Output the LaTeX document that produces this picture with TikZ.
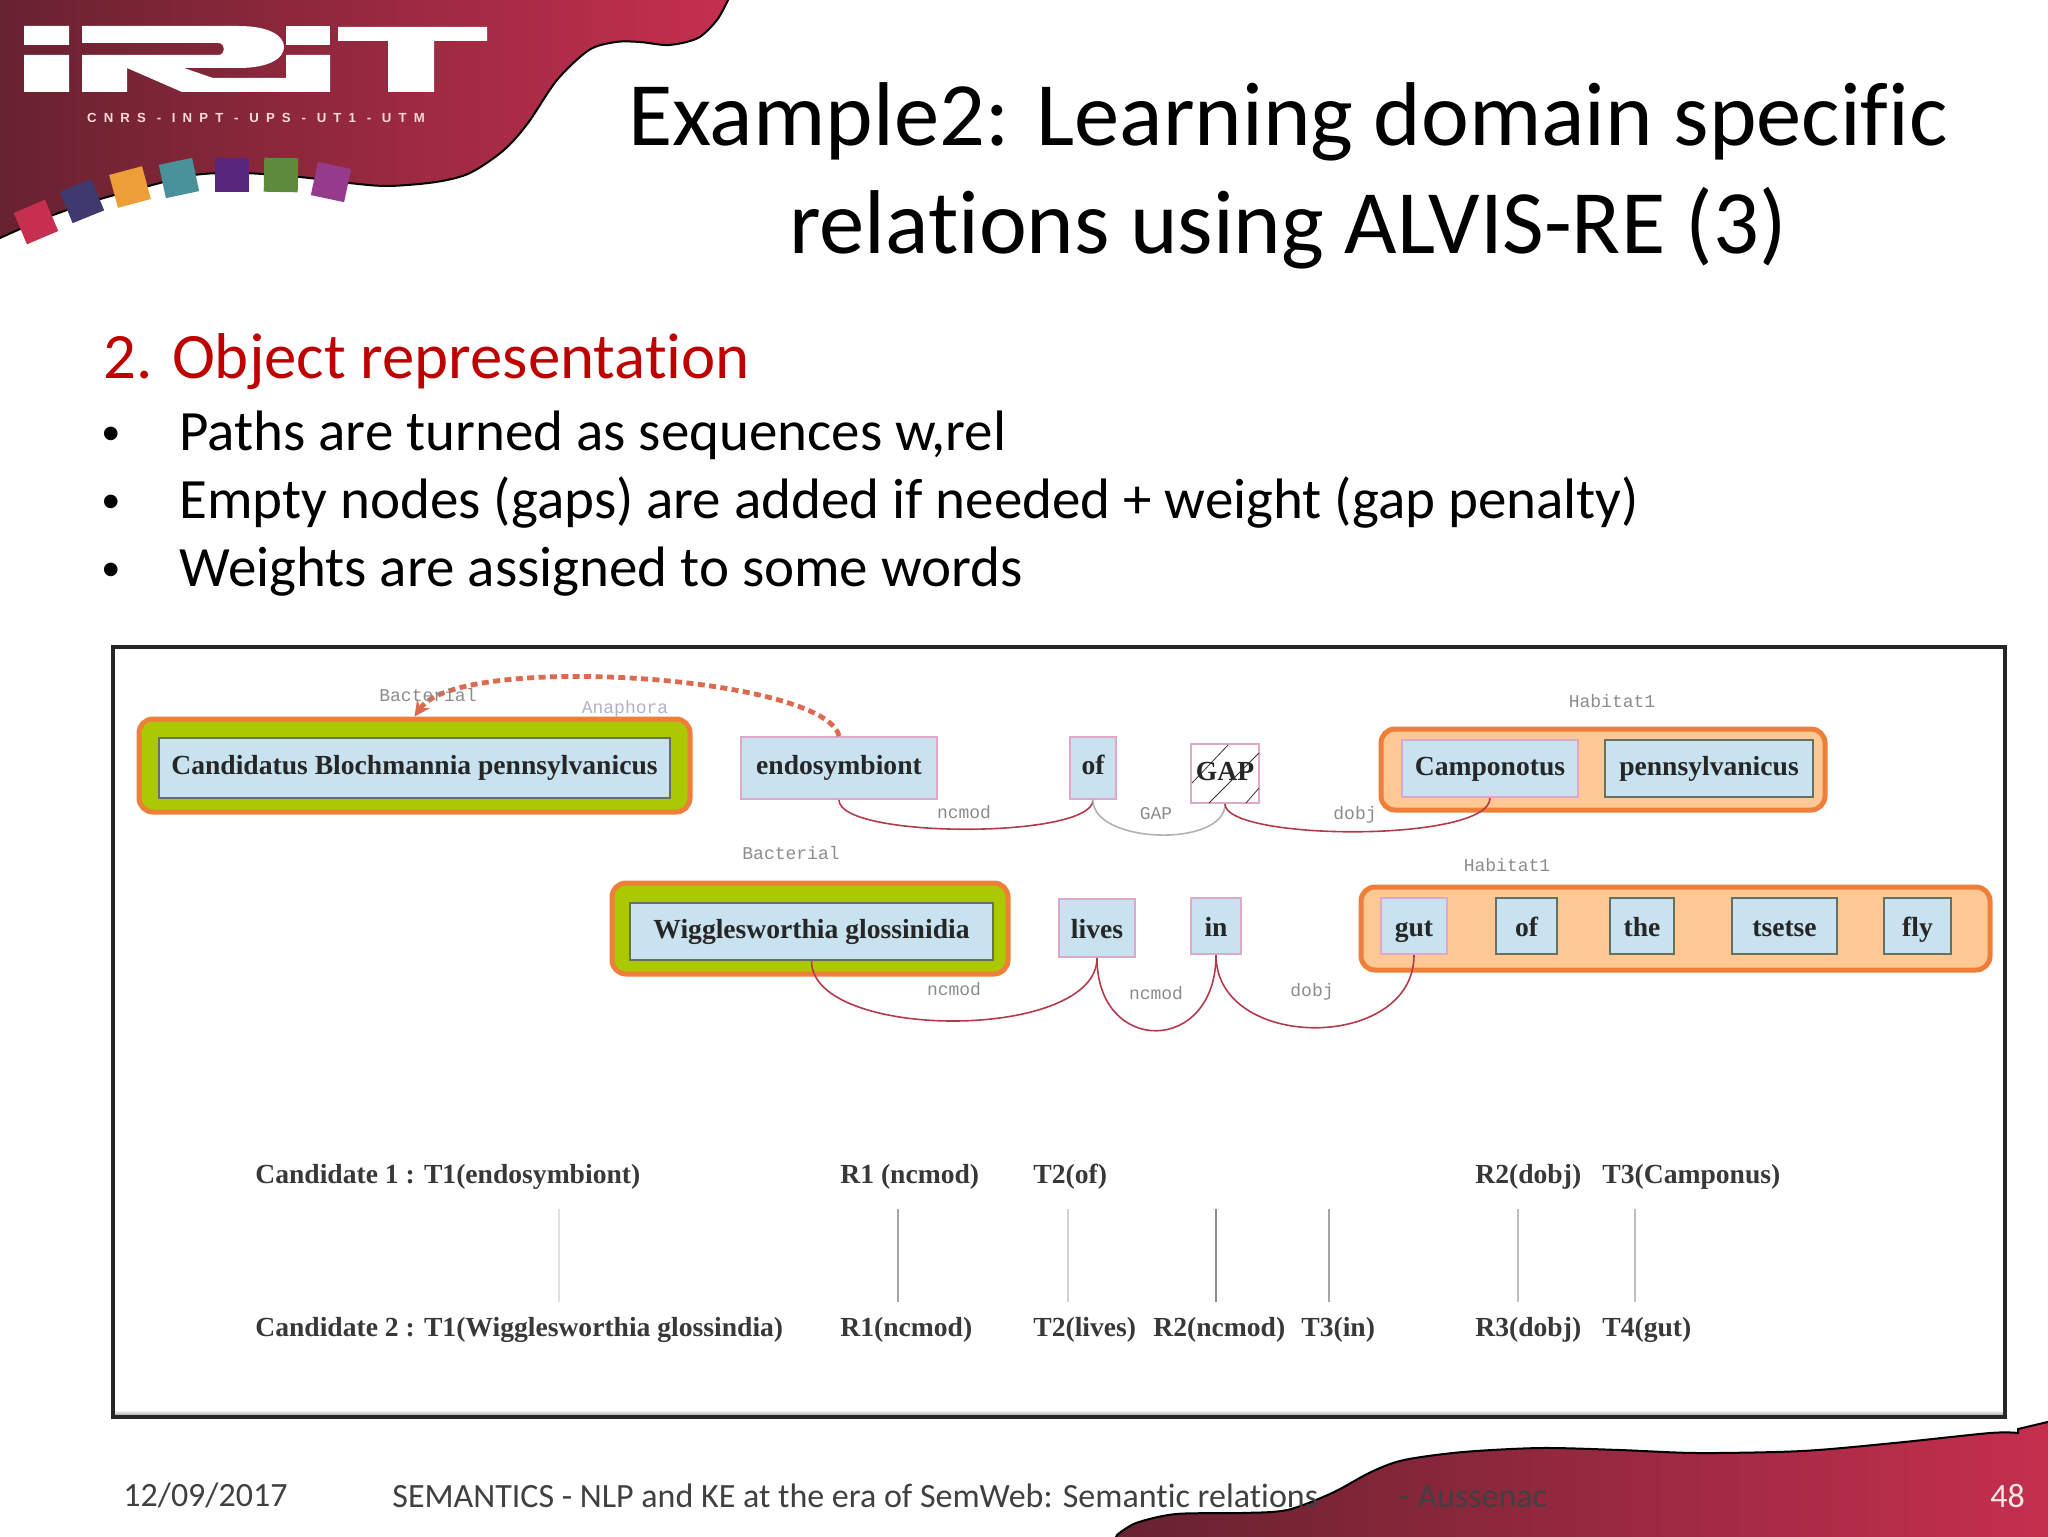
\documentclass[tikz,border=0pt]{standalone}
\usepackage{fontspec}
\setmainfont{Carlito}[Ligatures=NoCommon]
\newfontfamily\boxfont{Liberation Serif}
\newfontfamily\tagfont{Liberation Mono}
\newfontfamily\logofont{Liberation Sans}[LetterSpace=54]
\newfontfamily\bulletfont{Liberation Sans}
\usepackage{tikz}
\usetikzlibrary{arrows}
\definecolor{darkwine}{HTML}{66222F}
\definecolor{lightwine}{HTML}{C62F4F}
\definecolor{tokenblue}{HTML}{C9E2F0}
\definecolor{typegreen}{HTML}{ABC800}
\definecolor{typeorange}{HTML}{EE7F3A}
\definecolor{grouporange}{HTML}{FDC894}
\definecolor{tokenpink}{HTML}{DDA9C6}
\definecolor{tokengrey}{HTML}{66705F}
\definecolor{relred}{HTML}{B23A4C}
\definecolor{anaphred}{HTML}{DC6A4E}
\definecolor{tilenavy}{HTML}{3E3A6E}
\definecolor{tileorange}{HTML}{EE9E37}
\definecolor{tileteal}{HTML}{4A929A}
\definecolor{tilepurple}{HTML}{58267C}
\definecolor{tilegreen}{HTML}{5E8A3C}
\definecolor{tilemagenta}{HTML}{963A8C}
\tikzset{
  token/.style={draw=tokenpink,fill=tokenblue,line width=1pt,inner sep=0pt,minimum height=31pt,
    text height=9.5pt,text depth=3pt,text=black!85,font=\boxfont\bfseries\fontsize{13.8}{16}\selectfont},
  tokengr/.style={token,draw=tokengrey},
  lowtext/.style={text height=11.5pt,text depth=1pt},
  speciesbox/.style={draw=typeorange,fill=typegreen,line width=2.5pt,rounded corners=7pt,inner sep=0pt},
  groupbox/.style={draw=typeorange,fill=grouporange,line width=2.5pt,rounded corners=7pt,inner sep=0pt},
  tag/.style={text=black!45,inner sep=0pt,font=\tagfont\fontsize{9}{10}\selectfont},
  rel/.style={draw=relred,line width=0.8pt},
  candtext/.style={anchor=west,inner sep=0pt,text=black!78,font=\boxfont\bfseries\fontsize{13.8}{16}\selectfont},
  bodytext/.style={anchor=base west,inner sep=0pt,font=\fontsize{28.5}{34}\selectfont},
  foottext/.style={anchor=base west,inner sep=0pt,text=black!75,font=\fontsize{17}{20}\selectfont},
  tile/.style={minimum size=17pt,inner sep=0pt}
}
\begin{document}
\begin{tikzpicture}
  [
    x=0.5pt,
    y=-0.5pt
  ]
    \path[use as bounding box] (0,0) rectangle (2048,1536);
    % header and footer
    \shadedraw[left color=darkwine,right color=lightwine,draw=black,line width=1pt] (-10,-10) -- (732,-10) -- plot[smooth] coordinates
    {(728,0) (717,20) (698,38) (669,45) (640,42) (616,42) (589,50) (557,80) (528,123) (504,150)
    (470,173) (436,182) (388,186) (349,183) (300,177) (242,173) (194,175) (145,187) (97,200) (48,217) (0,238)}
    -- (-10,244) -- cycle;
    \shadedraw[left color=darkwine,right color=lightwine,draw=black,line width=1pt] (1112,1546) -- plot[smooth] coordinates
    {(1117,1535) (1136,1523) (1176,1514) (1241,1513) (1287,1510) (1332,1493) (1371,1472) (1404,1460) (1463,1452)
    (1541,1448) (1620,1450) (1698,1453) (1802,1451) (1894,1443) (1990,1433) (2018,1433)}
    -- (2018,1429) -- (2060,1419) -- (2060,1546) -- cycle;
    % logo
    \fill[white] (24,26) rectangle (69,45) (24,55) rectangle (69,92);
    \fill[white] (82,26) -- (238,26) .. controls (270,26) and (284,36) .. (284,47) .. controls (284,58) and (270,68) .. (238,68)
    -- (184,68) -- (213,78) -- (286,78) -- (286,55) -- (330,55) -- (330,92) -- (182,92) -- (127,68) -- (127,92) -- (82,92)
    -- (82,55) -- (218,55) .. controls (226,55) and (226,43) .. (218,43) -- (82,43) -- cycle;
    \fill[white] (286,26) rectangle (330,45);
    \fill[white] (338,27) -- (487,27) -- (487,41) -- (434,41) -- (434,92) -- (388,92) -- (388,41) -- (338,41) -- cycle;
    \node[inner sep=0pt,text=white!85!red,font=\logofont\bfseries\fontsize{6.6}{8}\selectfont] (logotext) at (256,118) {CNRS - INPT - UPS - UT1 - UTM};
    \node[tile,fill=lightwine,rotate=23] (tile1) at (36,222) {};
    \node[tile,fill=tilenavy,rotate=22] (tile2) at (82,201) {};
    \node[tile,fill=tileorange,rotate=15] (tile3) at (130,187) {};
    \node[tile,fill=tileteal,rotate=12] (tile4) at (179,178) {};
    \node[tile,fill=tilepurple,rotate=0] (tile5) at (232,175) {};
    \node[tile,fill=tilegreen,rotate=-1] (tile6) at (281,175) {};
    \node[tile,fill=tilemagenta,rotate=-12] (tile7) at (331,182) {};
    % title and bullets
    \node[inner sep=0pt,align=center,font=\fontsize{45.3}{54}\selectfont] (title) at (1288,176)
    {Example2: Learning domain specific\\relations using ALVIS-RE (3)};
    \node[bodytext,text=red!75!black,font=\fontsize{32.4}{38}\selectfont] (head) at (103,378) {2. Object representation};
    \node[bodytext,font=\bulletfont\fontsize{25}{30}\selectfont] (bul1) at (102,450) {•};
    \node[bodytext,font=\bulletfont\fontsize{25}{30}\selectfont] (bul2) at (102,518) {•};
    \node[bodytext,font=\bulletfont\fontsize{25}{30}\selectfont] (bul3) at (102,586) {•};
    \node[bodytext] (line1) at (179,450) {Paths are turned as sequences w,rel};
    \node[bodytext] (line2) at (179,518) {Empty nodes (gaps) are added if needed + weight (gap penalty)};
    \node[bodytext] (line3) at (179,586) {Weights are assigned to some words};
    % frame
    \shade[top color=white,bottom color=black!45] (113,1410) rectangle (2003,1417);
    \draw[black!85,line width=2pt] (113,647) rectangle (2005,1417);
    % first sentence
    \node[speciesbox,minimum width=275.5pt,minimum height=46.5pt] (candouter) at (414.5,765.5) {};
    \node[token,draw=tokengrey,minimum width=255.5pt,minimum height=30pt] (cand) at (414.5,768) {Candidatus Blochmannia pennsylvanicus};
    \node[token,minimum width=98pt] (endo) at (839,768) {endosymbiont};
    \node[token,minimum width=23pt] (ofa) at (1093,768) {of};
    \node[token,fill=white,minimum width=34pt,minimum height=29.5pt] (gapa) at (1225,773.5) {GAP};
    \draw[black!80] (1228,745) -- (1192,783) (1259,753) -- (1209,803) (1259,788) -- (1246,803);
    \node[groupbox,minimum width=222pt,minimum height=40.5pt] (campouter) at (1603,769.5) {};
    \node[token,minimum width=88pt,minimum height=28.5pt] (camp) at (1490,768.5) {Camponotus};
    \node[tokengr,minimum width=104pt,minimum height=28.5pt] (penn) at (1709,768.5) {pennsylvanicus};
    % second sentence
    \node[speciesbox,minimum width=198pt,minimum height=45.5pt] (wigouter) at (810,928.5) {};
    \node[tokengr,minimum width=181.5pt,minimum height=28.5pt] (wig) at (811.5,931.5) {Wigglesworthia glossinidia};
    \node[token,lowtext,minimum width=38pt,minimum height=29pt] (lives) at (1097,928) {lives};
    \node[token,lowtext,minimum width=25pt,minimum height=28pt] (inb) at (1216,926) {in};
    \node[groupbox,minimum width=314.5pt,minimum height=41.5pt] (gutouter) at (1675.5,928.5) {};
    \node[token,lowtext,minimum width=33pt,minimum height=28pt] (gut) at (1414,926) {gut};
    \node[tokengr,lowtext,minimum width=30.5pt,minimum height=28pt] (ofb) at (1526.5,926) {of};
    \node[tokengr,lowtext,minimum width=32pt,minimum height=28pt] (the) at (1642,926) {the};
    \node[tokengr,lowtext,minimum width=52.5pt,minimum height=28pt] (tsetse) at (1784.5,926) {tsetse};
    \node[tokengr,lowtext,minimum width=33.5pt,minimum height=28pt] (fly) at (1917.5,926) {fly};
    % relations
    \draw[anaphred,line width=2.4pt,dash pattern=on 3.5pt off 2.2pt,-stealth] (endo.north) .. controls (825,676) and (460,652) .. (candouter.north);
    \draw[rel] (endo.south) .. controls +(0,39) and +(0,39) .. (ofa.south);
    \draw[rel,draw=black!30] (ofa.south) .. controls +(0,44) and +(0,44) .. (gapa.south);
    \draw[rel] (gapa.south) .. controls +(0,37) and +(0,45) .. (camp.south);
    \draw[rel] (wig.south) .. controls +(0,80) and +(0,84) .. (lives.south);
    \draw[rel] (lives.south) .. controls +(0,98) and +(0,100) .. (inb.south);
    \draw[rel] (inb.south) .. controls +(0,97) and +(0,97) .. (gut.south);
    % tags
    \node[tag] (tagbacta) at (428,695) {Bacterial};
    \node[tag,text=blue!25!black!30] (taganaph) at (625,709) {Anaphora};
    \node[tag] (tagrel1) at (964,812) {ncmod};
    \node[tag] (tagrel2) at (1156,814) {GAP};
    \node[tag] (tagrel3) at (1355,815) {dobj};
    \node[tag] (taghaba) at (1612,701) {Habitat1};
    \node[tag] (tagbactb) at (791,853) {Bacterial};
    \node[tag] (taghabb) at (1507,865) {Habitat1};
    \node[tag] (tagrel4) at (954,989) {ncmod};
    \node[tag] (tagrel5) at (1156,993) {ncmod};
    \node[tag] (tagrel6) at (1312,992) {dobj};
    % candidates
    \node[candtext] (c1a) at (255,1177) {Candidate 1 : T1(endosymbiont)};
    \node[candtext] (c1b) at (840,1177) {R1 (ncmod)};
    \node[candtext] (c1c) at (1033,1177) {T2(of)};
    \node[candtext] (c1d) at (1475,1177) {R2(dobj)};
    \node[candtext] (c1e) at (1602,1177) {T3(Camponus)};
    \node[candtext] (c2a) at (255,1330) {Candidate 2 : T1(Wigglesworthia glossindia)};
    \node[candtext] (c2b) at (840,1330) {R1(ncmod)};
    \node[candtext] (c2c) at (1033,1330) {T2(lives)};
    \node[candtext] (c2d) at (1153,1330) {R2(ncmod)};
    \node[candtext] (c2e) at (1301,1330) {T3(in)};
    \node[candtext] (c2f) at (1475,1330) {R3(dobj)};
    \node[candtext] (c2g) at (1602,1330) {T4(gut)};
    \foreach \i/\x/\g in {1/559/12,2/898/35,3/1068/18,4/1216/45,5/1329/35,6/1518/25,7/1635/25}
    {
      \coordinate (top\i) at (\x,1209);
      \coordinate (bot\i) at (\x,1302);
      \draw[black!\g,line width=0.7pt] (top\i) -- (bot\i);
    }
    % footer text
    \node[foottext] (date) at (123,1506) {12/09/2017};
    \node[foottext] (talk) at (392,1507) {SEMANTICS - NLP and KE at the era of SemWeb: Semantic relations};
    \node[foottext] (author) at (1399,1507) {- Aussenac};
    \node[foottext,text=white!90!red] (page) at (1990,1507) {48};
\end{tikzpicture}
\end{document}
